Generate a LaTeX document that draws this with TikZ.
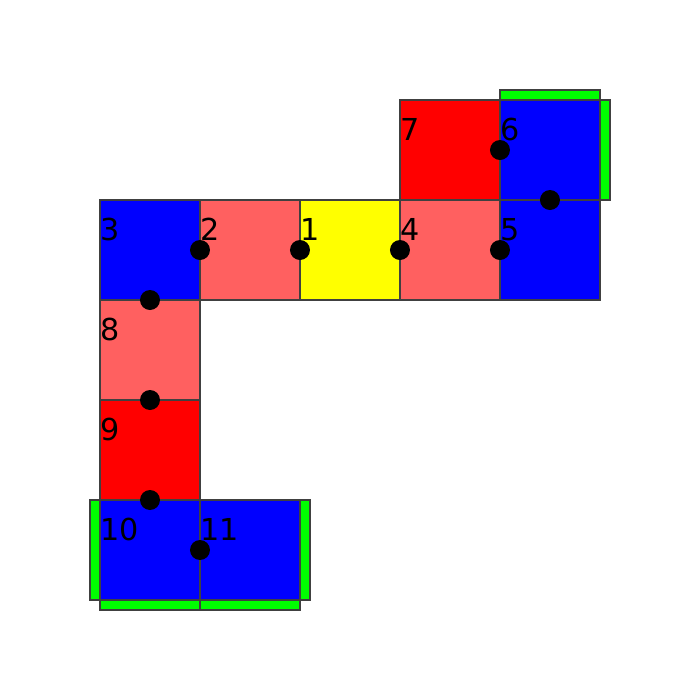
\documentclass[tikz,border=0pt]{standalone}
\usepackage{fontspec}
\setmainfont{DejaVu Sans}
\usepackage{xcolor}
\usepackage{tikz}
\usetikzlibrary{positioning,calc}
\definecolor{pred}{HTML}{FF0000}
\definecolor{plight}{HTML}{FF6060}
\definecolor{pblue}{HTML}{0000FF}
\definecolor{pyel}{HTML}{FFFF00}
\definecolor{pgrn}{HTML}{00FF00}
\begin{document}
\begin{tikzpicture}[x=1cm,y=1cm,
  sq/.style={draw=black!75,line width=0.4pt,minimum size=1cm,inner sep=0pt,outer sep=0pt,anchor=south west},
  bar/.style={draw=black!75,line width=0.4pt,fill=pgrn},
  dot/.style={circle,fill=black,minimum size=0.2cm,inner sep=0pt},
  lb/.style={anchor=base west,inner sep=0pt,font=\fontsize{8.6}{10}\selectfont}
]
\useasboundingbox (0,0) rectangle (7,7);
% ---- green edge markers (behind the squares) ----
\draw[bar] (5,6) rectangle (6,6.1);
\draw[bar] (6,5) rectangle (6.1,6);
\draw[bar] (0.9,1) rectangle (1,2);
\draw[bar] (1,0.9) rectangle (2,1);
\draw[bar] (2,0.9) rectangle (3,1);
\draw[bar] (3,1) rectangle (3.1,2);
% ---- squares ----
\node[sq,fill=pred]   (s7)  at (4,5) {};
\node[sq,fill=pblue]  (s6)  at (5,5) {};
\node[sq,fill=pblue]  (s3)  at (1,4) {};
\node[sq,fill=plight] (s2)  at (2,4) {};
\node[sq,fill=pyel]   (s1)  at (3,4) {};
\node[sq,fill=plight] (s4)  at (4,4) {};
\node[sq,fill=pblue]  (s5)  at (5,4) {};
\node[sq,fill=plight] (s8)  at (1,3) {};
\node[sq,fill=pred]   (s9)  at (1,2) {};
\node[sq,fill=pblue]  (s10) at (1,1) {};
\node[sq,fill=pblue]  (s11) at (2,1) {};
% ---- labels ----
\node[lb] (l7)  at ($(s7.north west)+(0,-0.4)$)  {7};
\node[lb] (l6)  at ($(s6.north west)+(0,-0.4)$)  {6};
\node[lb] (l3)  at ($(s3.north west)+(0,-0.4)$)  {3};
\node[lb] (l2)  at ($(s2.north west)+(0,-0.4)$)  {2};
\node[lb] (l1)  at ($(s1.north west)+(0,-0.4)$)  {1};
\node[lb] (l4)  at ($(s4.north west)+(0,-0.4)$)  {4};
\node[lb] (l5)  at ($(s5.north west)+(0,-0.4)$)  {5};
\node[lb] (l8)  at ($(s8.north west)+(0,-0.4)$)  {8};
\node[lb] (l9)  at ($(s9.north west)+(0,-0.4)$)  {9};
\node[lb] (l10) at ($(s10.north west)+(0,-0.4)$) {10};
\node[lb] (l11) at ($(s11.north west)+(0,-0.4)$) {11};
% ---- joints ----
\node[dot] (d2)  at (s2.west)  {};
\node[dot] (d1)  at (s1.west)  {};
\node[dot] (d4)  at (s4.west)  {};
\node[dot] (d5)  at (s5.west)  {};
\node[dot] (d38) at (s3.south) {};
\node[dot] (d89) at (s8.south) {};
\node[dot] (d9x) at (s9.south) {};
\node[dot] (d11) at (s11.west) {};
\node[dot] (d6)  at (s6.west)  {};
\node[dot] (d56) at (s6.south) {};
\end{tikzpicture}
\end{document}
